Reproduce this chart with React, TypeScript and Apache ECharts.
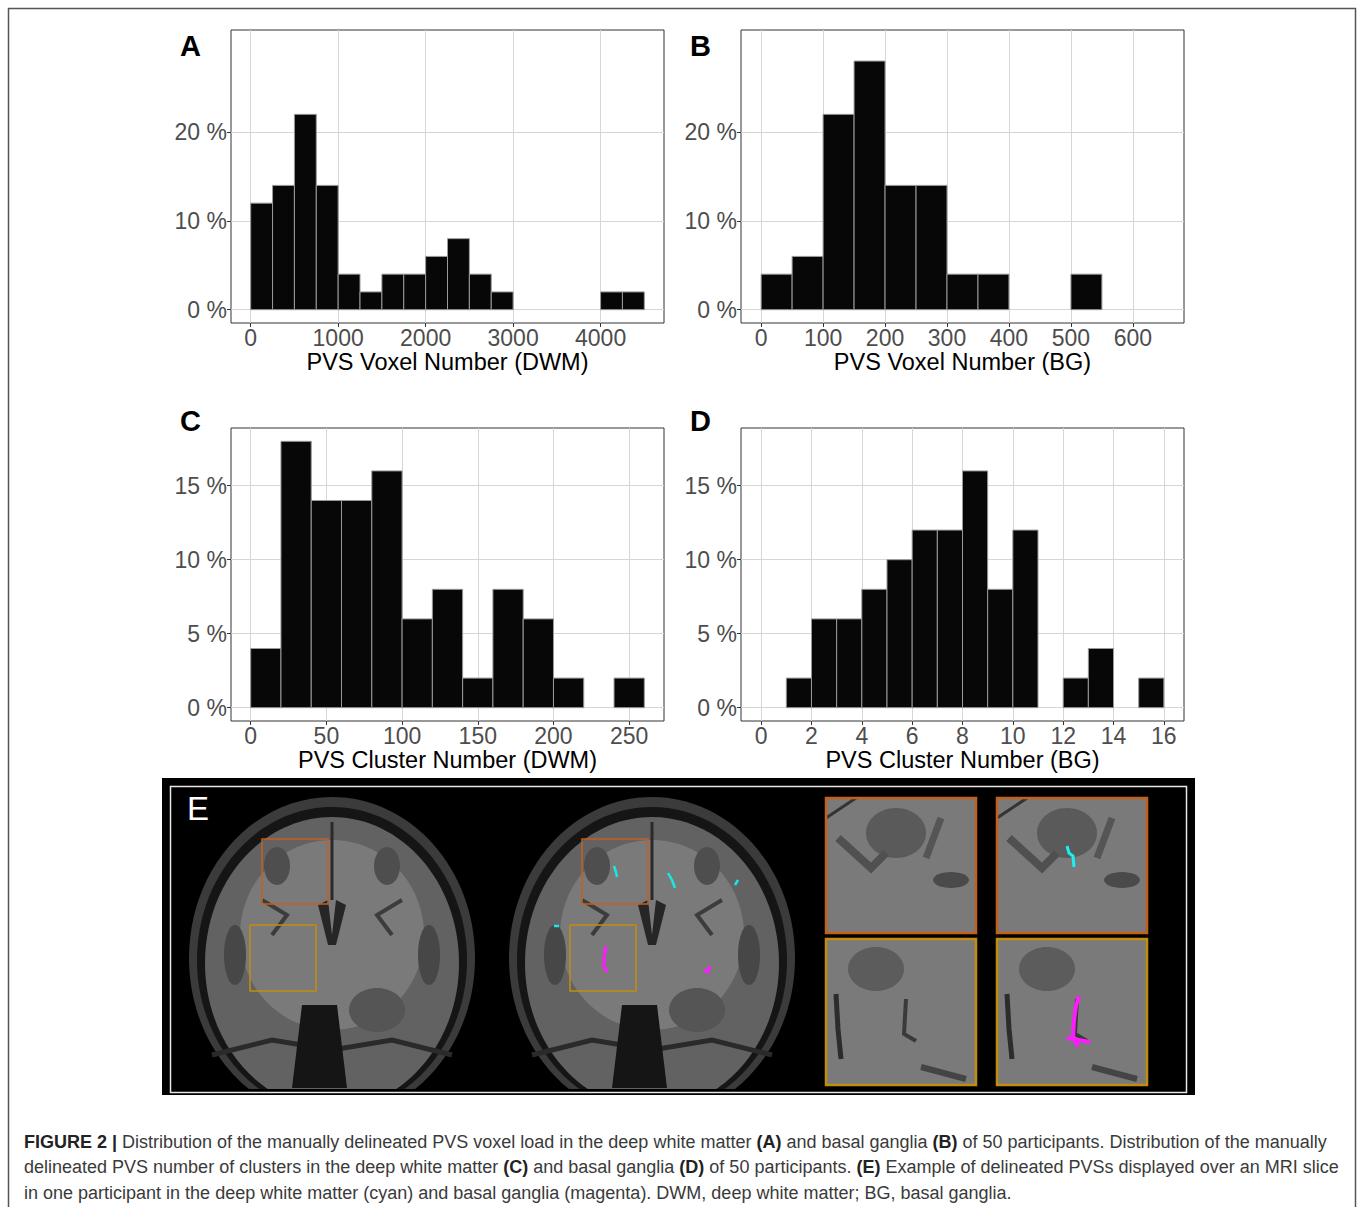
import React, { useEffect, useRef } from 'react';
import * as echarts from 'echarts';

const FONT = '"Liberation Sans", Arial, Helvetica, sans-serif';

// Panel A: PVS voxel number (DWM), bins of 250 starting at 0, percent of participants
const DWM_VOXEL_BIN_START = 0;
const DWM_VOXEL_BIN_WIDTH = 250;
const DWM_VOXEL_PCT = [12, 14, 22, 14, 4, 2, 4, 4, 6, 8, 4, 2, 0, 0, 0, 0, 2, 2];
const DWM_VOXEL_TICKS = [0, 1000, 2000, 3000, 4000];

// Panel B: PVS voxel number (BG), bins of 50
const BG_VOXEL_BIN_START = 0;
const BG_VOXEL_BIN_WIDTH = 50;
const BG_VOXEL_PCT = [4, 6, 22, 28, 14, 14, 4, 4, 0, 0, 4];
const BG_VOXEL_TICKS = [0, 100, 200, 300, 400, 500, 600];

// Panel C: PVS cluster number (DWM), bins of 20
const DWM_CLUSTER_BIN_START = 0;
const DWM_CLUSTER_BIN_WIDTH = 20;
const DWM_CLUSTER_PCT = [4, 18, 14, 14, 16, 6, 8, 2, 8, 6, 2, 0, 2];
const DWM_CLUSTER_TICKS = [0, 50, 100, 150, 200, 250];

// Panel D: PVS cluster number (BG), bins of 1 starting at 1
const BG_CLUSTER_BIN_START = 1;
const BG_CLUSTER_BIN_WIDTH = 1;
const BG_CLUSTER_PCT = [2, 6, 6, 8, 10, 12, 12, 16, 8, 12, 0, 2, 4, 0, 2];
const BG_CLUSTER_TICKS = [0, 2, 4, 6, 8, 10, 12, 14, 16];

const PCT_TICKS_TOP = [0, 10, 20];
const PCT_TICKS_BOTTOM = [0, 5, 10, 15];

const CAPTION_LINES = [
  '{b|FIGURE 2 |} Distribution of the manually delineated PVS voxel load in the deep white matter {b|(A)} and basal ganglia {b|(B)} of 50 participants. Distribution of the manually',
  'delineated PVS number of clusters in the deep white matter {b|(C)} and basal ganglia {b|(D)} of 50 participants. {b|(E)} Example of delineated PVSs displayed over an MRI slice',
  'in one participant in the deep white matter (cyan) and basal ganglia (magenta). DWM, deep white matter; BG, basal ganglia.',
];

interface Panel {
  letter: string;
  title: string;
  start: number;
  width: number;
  pct: number[];
  xTicks: number[];
  xLim: [number, number];
  yTicks: number[];
  yLim: [number, number];
  box: { left: number; top: number; width: number; height: number };
  letterY: number;
}

const PANELS: Panel[] = [
  {
    letter: 'A', title: 'PVS Voxel Number (DWM)',
    start: DWM_VOXEL_BIN_START, width: DWM_VOXEL_BIN_WIDTH, pct: DWM_VOXEL_PCT,
    xTicks: DWM_VOXEL_TICKS, xLim: [0, 4500], yTicks: PCT_TICKS_TOP, yLim: [0, 30],
    box: { left: 231, top: 30, width: 433, height: 293 }, letterY: 31,
  },
  {
    letter: 'B', title: 'PVS Voxel Number (BG)',
    start: BG_VOXEL_BIN_START, width: BG_VOXEL_BIN_WIDTH, pct: BG_VOXEL_PCT,
    xTicks: BG_VOXEL_TICKS, xLim: [0, 650], yTicks: PCT_TICKS_TOP, yLim: [0, 30],
    box: { left: 741, top: 30, width: 443, height: 293 }, letterY: 31,
  },
  {
    letter: 'C', title: 'PVS Cluster Number (DWM)',
    start: DWM_CLUSTER_BIN_START, width: DWM_CLUSTER_BIN_WIDTH, pct: DWM_CLUSTER_PCT,
    xTicks: DWM_CLUSTER_TICKS, xLim: [0, 260], yTicks: PCT_TICKS_BOTTOM, yLim: [0, 18],
    box: { left: 231, top: 428, width: 433, height: 293 }, letterY: 406,
  },
  {
    letter: 'D', title: 'PVS Cluster Number (BG)',
    start: BG_CLUSTER_BIN_START, width: BG_CLUSTER_BIN_WIDTH, pct: BG_CLUSTER_PCT,
    xTicks: BG_CLUSTER_TICKS, xLim: [0, 16], yTicks: PCT_TICKS_BOTTOM, yLim: [0, 18],
    box: { left: 741, top: 428, width: 443, height: 293 }, letterY: 406,
  },
];

// ggplot-style 5% expansion of the limits
function expand([lo, hi]: [number, number]) {
  const pad = (hi - lo) * 0.05;
  return { min: lo - pad, max: hi + pad };
}

const ORANGE = '#c4601c';
const GOLD = '#c38d0c';

function brain(cx: number, marks: boolean): any[] {
  const els: any[] = [
    { type: 'ellipse', shape: { cx, cy: 958, rx: 143, ry: 161 }, style: { fill: '#3b3b3b' } },
    { type: 'ellipse', shape: { cx, cy: 960, rx: 135, ry: 153 }, style: { fill: '#151515' } },
    { type: 'ellipse', shape: { cx, cy: 963, rx: 127, ry: 146 }, style: { fill: '#626262' } },
    { type: 'ellipse', shape: { cx, cy: 935, rx: 92, ry: 95 }, style: { fill: '#7a7a7a' } },
    { type: 'ellipse', shape: { cx: cx - 55, cy: 866, rx: 13, ry: 19 }, style: { fill: '#4e4e4e' } },
    { type: 'ellipse', shape: { cx: cx + 55, cy: 866, rx: 13, ry: 19 }, style: { fill: '#4e4e4e' } },
    { type: 'ellipse', shape: { cx: cx - 97, cy: 955, rx: 11, ry: 30 }, style: { fill: '#474747' } },
    { type: 'ellipse', shape: { cx: cx + 97, cy: 955, rx: 11, ry: 30 }, style: { fill: '#474747' } },
    { type: 'polyline', shape: { points: [[cx, 822], [cx, 900]] }, style: { stroke: '#2a2a2a', lineWidth: 3 } },
    { type: 'polygon', shape: { points: [[cx - 14, 905], [cx - 4, 900], [cx, 935], [cx + 4, 900], [cx + 14, 905], [cx + 4, 945], [cx - 4, 945]] }, style: { fill: '#262626' } },
    { type: 'polyline', shape: { points: [[cx - 70, 900], [cx - 45, 915], [cx - 60, 935]] }, style: { stroke: '#3c3c3c', lineWidth: 4 } },
    { type: 'polyline', shape: { points: [[cx + 70, 900], [cx + 45, 915], [cx + 60, 935]] }, style: { stroke: '#3c3c3c', lineWidth: 4 } },
    { type: 'polyline', shape: { points: [[cx - 120, 1055], [cx - 60, 1040], [cx, 1050], [cx + 60, 1040], [cx + 120, 1055]] }, style: { stroke: '#2a2a2a', lineWidth: 5 } },
    { type: 'polygon', shape: { points: [[cx - 30, 1005], [cx + 5, 1005], [cx + 15, 1088], [cx - 40, 1088]] }, style: { fill: '#151515' } },
    { type: 'ellipse', shape: { cx: cx + 45, cy: 1010, rx: 28, ry: 22 }, style: { fill: '#555' } },
    { type: 'rect', shape: { x: cx - 70, y: 839, width: 66, height: 65 }, style: { fill: 'none', stroke: ORANGE, lineWidth: 1.5 } },
    { type: 'rect', shape: { x: cx - 82, y: 925, width: 66, height: 66 }, style: { fill: 'none', stroke: GOLD, lineWidth: 1.5 } },
  ];
  if (marks) {
    const cyan = { stroke: '#19e6e6', lineWidth: 2.5, fill: 'none' };
    const mag = { stroke: '#ff1aff', lineWidth: 3, fill: 'none' };
    els.push(
      { type: 'polyline', shape: { points: [[cx - 38, 866], [cx - 36, 872], [cx - 35, 877]] }, style: cyan },
      { type: 'polyline', shape: { points: [[cx + 16, 873], [cx + 20, 880], [cx + 23, 888]] }, style: cyan },
      { type: 'polyline', shape: { points: [[cx + 83, 885], [cx + 86, 880]] }, style: cyan },
      { type: 'polyline', shape: { points: [[cx - 98, 926], [cx - 93, 926]] }, style: cyan },
      { type: 'polyline', shape: { points: [[cx - 46, 946], [cx - 48, 958], [cx - 48, 966], [cx - 45, 972]] }, style: mag },
      { type: 'polyline', shape: { points: [[cx + 52, 970], [cx + 56, 972], [cx + 58, 966]] }, style: mag },
    );
  }
  return els;
}

function zoomSquare(x: number, y: number, w: number, h: number, color: string, top: boolean): any[] {
  const els: any[] = [
    { type: 'rect', shape: { x, y, width: w, height: h }, style: { fill: '#7a7a7a' } },
  ];
  if (top) {
    els.push(
      { type: 'ellipse', shape: { cx: x + 70, cy: y + 35, rx: 30, ry: 25 }, style: { fill: '#5a5a5a' } },
      { type: 'polyline', shape: { points: [[x + 12, y + 40], [x + 45, y + 70], [x + 60, y + 55]] }, style: { stroke: '#505050', lineWidth: 8 } },
      { type: 'polyline', shape: { points: [[x + 115, y + 20], [x + 100, y + 60]] }, style: { stroke: '#555', lineWidth: 7 } },
      { type: 'ellipse', shape: { cx: x + 125, cy: y + 82, rx: 18, ry: 8 }, style: { fill: '#4a4a4a' } },
      { type: 'polyline', shape: { points: [[x, y + 20], [x + 30, y]] }, style: { stroke: '#333', lineWidth: 3 } },
    );
  } else {
    els.push(
      { type: 'ellipse', shape: { cx: x + 50, cy: y + 30, rx: 28, ry: 22 }, style: { fill: '#5c5c5c' } },
      { type: 'polyline', shape: { points: [[x + 10, y + 55], [x + 12, y + 90], [x + 15, y + 120]] }, style: { stroke: '#2c2c2c', lineWidth: 5 } },
      { type: 'polyline', shape: { points: [[x + 80, y + 60], [x + 78, y + 95], [x + 90, y + 102]] }, style: { stroke: '#3a3a3a', lineWidth: 4 } },
      { type: 'polyline', shape: { points: [[x + 95, y + 128], [x + 140, y + 140]] }, style: { stroke: '#444', lineWidth: 6 } },
    );
  }
  els.push({ type: 'rect', shape: { x, y, width: w, height: h }, style: { fill: 'none', stroke: color, lineWidth: 2.5 } });
  return els;
}

const App: React.FC = () => {
  const chartRef = useRef<HTMLDivElement>(null);

  useEffect(() => {
    if (!chartRef.current) return;
    const chart = echarts.init(chartRef.current, undefined, { renderer: 'svg' });

    const grids = PANELS.map((p) => ({
      ...p.box,
      show: true,
      borderColor: '#333',
      borderWidth: 1,
      backgroundColor: 'transparent',
    }));

    const xAxes = PANELS.map((p, i) => ({
      type: 'value',
      gridIndex: i,
      ...expand(p.xLim),
      name: p.title,
      nameLocation: 'middle',
      nameGap: 26,
      nameTextStyle: { color: '#000', fontSize: 23.5, fontFamily: FONT },
      axisLine: { show: false, onZero: false },
      axisTick: { show: true, length: 4, customValues: p.xTicks, lineStyle: { color: '#333' } },
      axisLabel: {
        customValues: p.xTicks,
        formatter: (v: number) => String(v),
        color: '#4d4d4d',
        fontSize: 23,
        fontFamily: FONT,
        margin: 3,
      },
      splitLine: { show: true, lineStyle: { color: '#d6d6d6', width: 1 } },
    }));

    const yAxes = PANELS.map((p, i) => ({
      type: 'value',
      gridIndex: i,
      ...expand(p.yLim),
      axisLine: { show: false, onZero: false },
      axisTick: { show: true, length: 4, customValues: p.yTicks, lineStyle: { color: '#333' } },
      axisLabel: {
        customValues: p.yTicks,
        formatter: (v: number) => `${v} %`,
        color: '#4d4d4d',
        fontSize: 23,
        fontFamily: FONT,
        margin: 4,
      },
      splitLine: { show: true, lineStyle: { color: '#d6d6d6', width: 1 } },
    }));

    const series = PANELS.map((p, i) => ({
      type: 'custom',
      xAxisIndex: i,
      yAxisIndex: i,
      encode: { x: [0, 1], y: 2 },
      data: p.pct
        .map((v, k) => [p.start + k * p.width, p.start + (k + 1) * p.width, v])
        .filter((d) => d[2] > 0),
      renderItem: (_params: any, api: any) => {
        const p0 = api.coord([api.value(0), 0]);
        const p1 = api.coord([api.value(1), api.value(2)]);
        return {
          type: 'rect',
          shape: { x: p0[0], y: p1[1], width: p1[0] - p0[0], height: p0[1] - p1[1] },
          style: { fill: '#070707', stroke: '#9a9a9a', lineWidth: 1 },
        };
      },
    }));

    const letters = PANELS.map((p) => ({
      type: 'text',
      x: p.box.left - 51,
      y: p.letterY,
      style: { text: p.letter, fontSize: 29, fontWeight: 'bold', fontFamily: FONT, fill: '#000' },
    }));

    const panelE = [
      { type: 'rect', shape: { x: 162, y: 778, width: 1033, height: 317 }, style: { fill: '#000' } },
      ...brain(332, false),
      ...brain(652, true),
      { type: 'rect', shape: { x: 171, y: 1089, width: 1015, height: 6 }, style: { fill: '#000' } },
      { type: 'rect', shape: { x: 150, y: 1095, width: 1060, height: 30 }, style: { fill: '#fff' } },
      ...zoomSquare(826, 798, 150, 135, ORANGE, true),
      ...zoomSquare(997, 798, 150, 135, ORANGE, true),
      ...zoomSquare(826, 939, 150, 146, GOLD, false),
      ...zoomSquare(997, 939, 150, 146, GOLD, false),
      { type: 'polyline', shape: { points: [[1067, 846], [1069, 853], [1073, 856], [1074, 867]] }, style: { stroke: '#19f0f0', lineWidth: 3 } },
      { type: 'polyline', shape: { points: [[1079, 996], [1076, 1006], [1074, 1020], [1073, 1036], [1078, 1047]] }, style: { stroke: '#ff1aff', lineWidth: 4 } },
      { type: 'polyline', shape: { points: [[1067, 1038], [1090, 1042]] }, style: { stroke: '#ff1aff', lineWidth: 4 } },
      { type: 'rect', shape: { x: 170.5, y: 786.5, width: 1016, height: 306 }, style: { fill: 'none', stroke: '#e8e8e8', lineWidth: 1.5 } },
      { type: 'text', x: 187, y: 792, style: { text: 'E', fontSize: 33, fontFamily: FONT, fill: '#fff' } },
    ];

    const caption = CAPTION_LINES.map((line, i) => ({
      type: 'text',
      x: 24,
      y: [1142, 1167, 1193][i],
      style: {
        text: line,
        fontSize: 18,
        fontFamily: FONT,
        fill: '#3a3a3a',
        verticalAlign: 'middle',
        rich: { b: { fontWeight: 'bold', fontSize: 18, fontFamily: FONT, fill: '#222' } },
      },
    }));

    chart.setOption({
      animation: false,
      backgroundColor: '#fff',
      grid: grids,
      xAxis: xAxes,
      yAxis: yAxes,
      series,
      graphic: [
        { type: 'rect', shape: { x: 8.5, y: 8.5, width: 1347, height: 1220 }, style: { fill: 'none', stroke: '#555', lineWidth: 1.5 } },
        ...letters,
        ...panelE,
        ...caption,
      ],
    } as any);

    return () => chart.dispose();
  }, []);

  return (
    <div style={{ position: 'absolute', left: 0, top: 0, width: 1358, height: 1207 }}>
      <div ref={chartRef} style={{ width: 1358, height: 1207 }} />
    </div>
  );
};

export default App;
